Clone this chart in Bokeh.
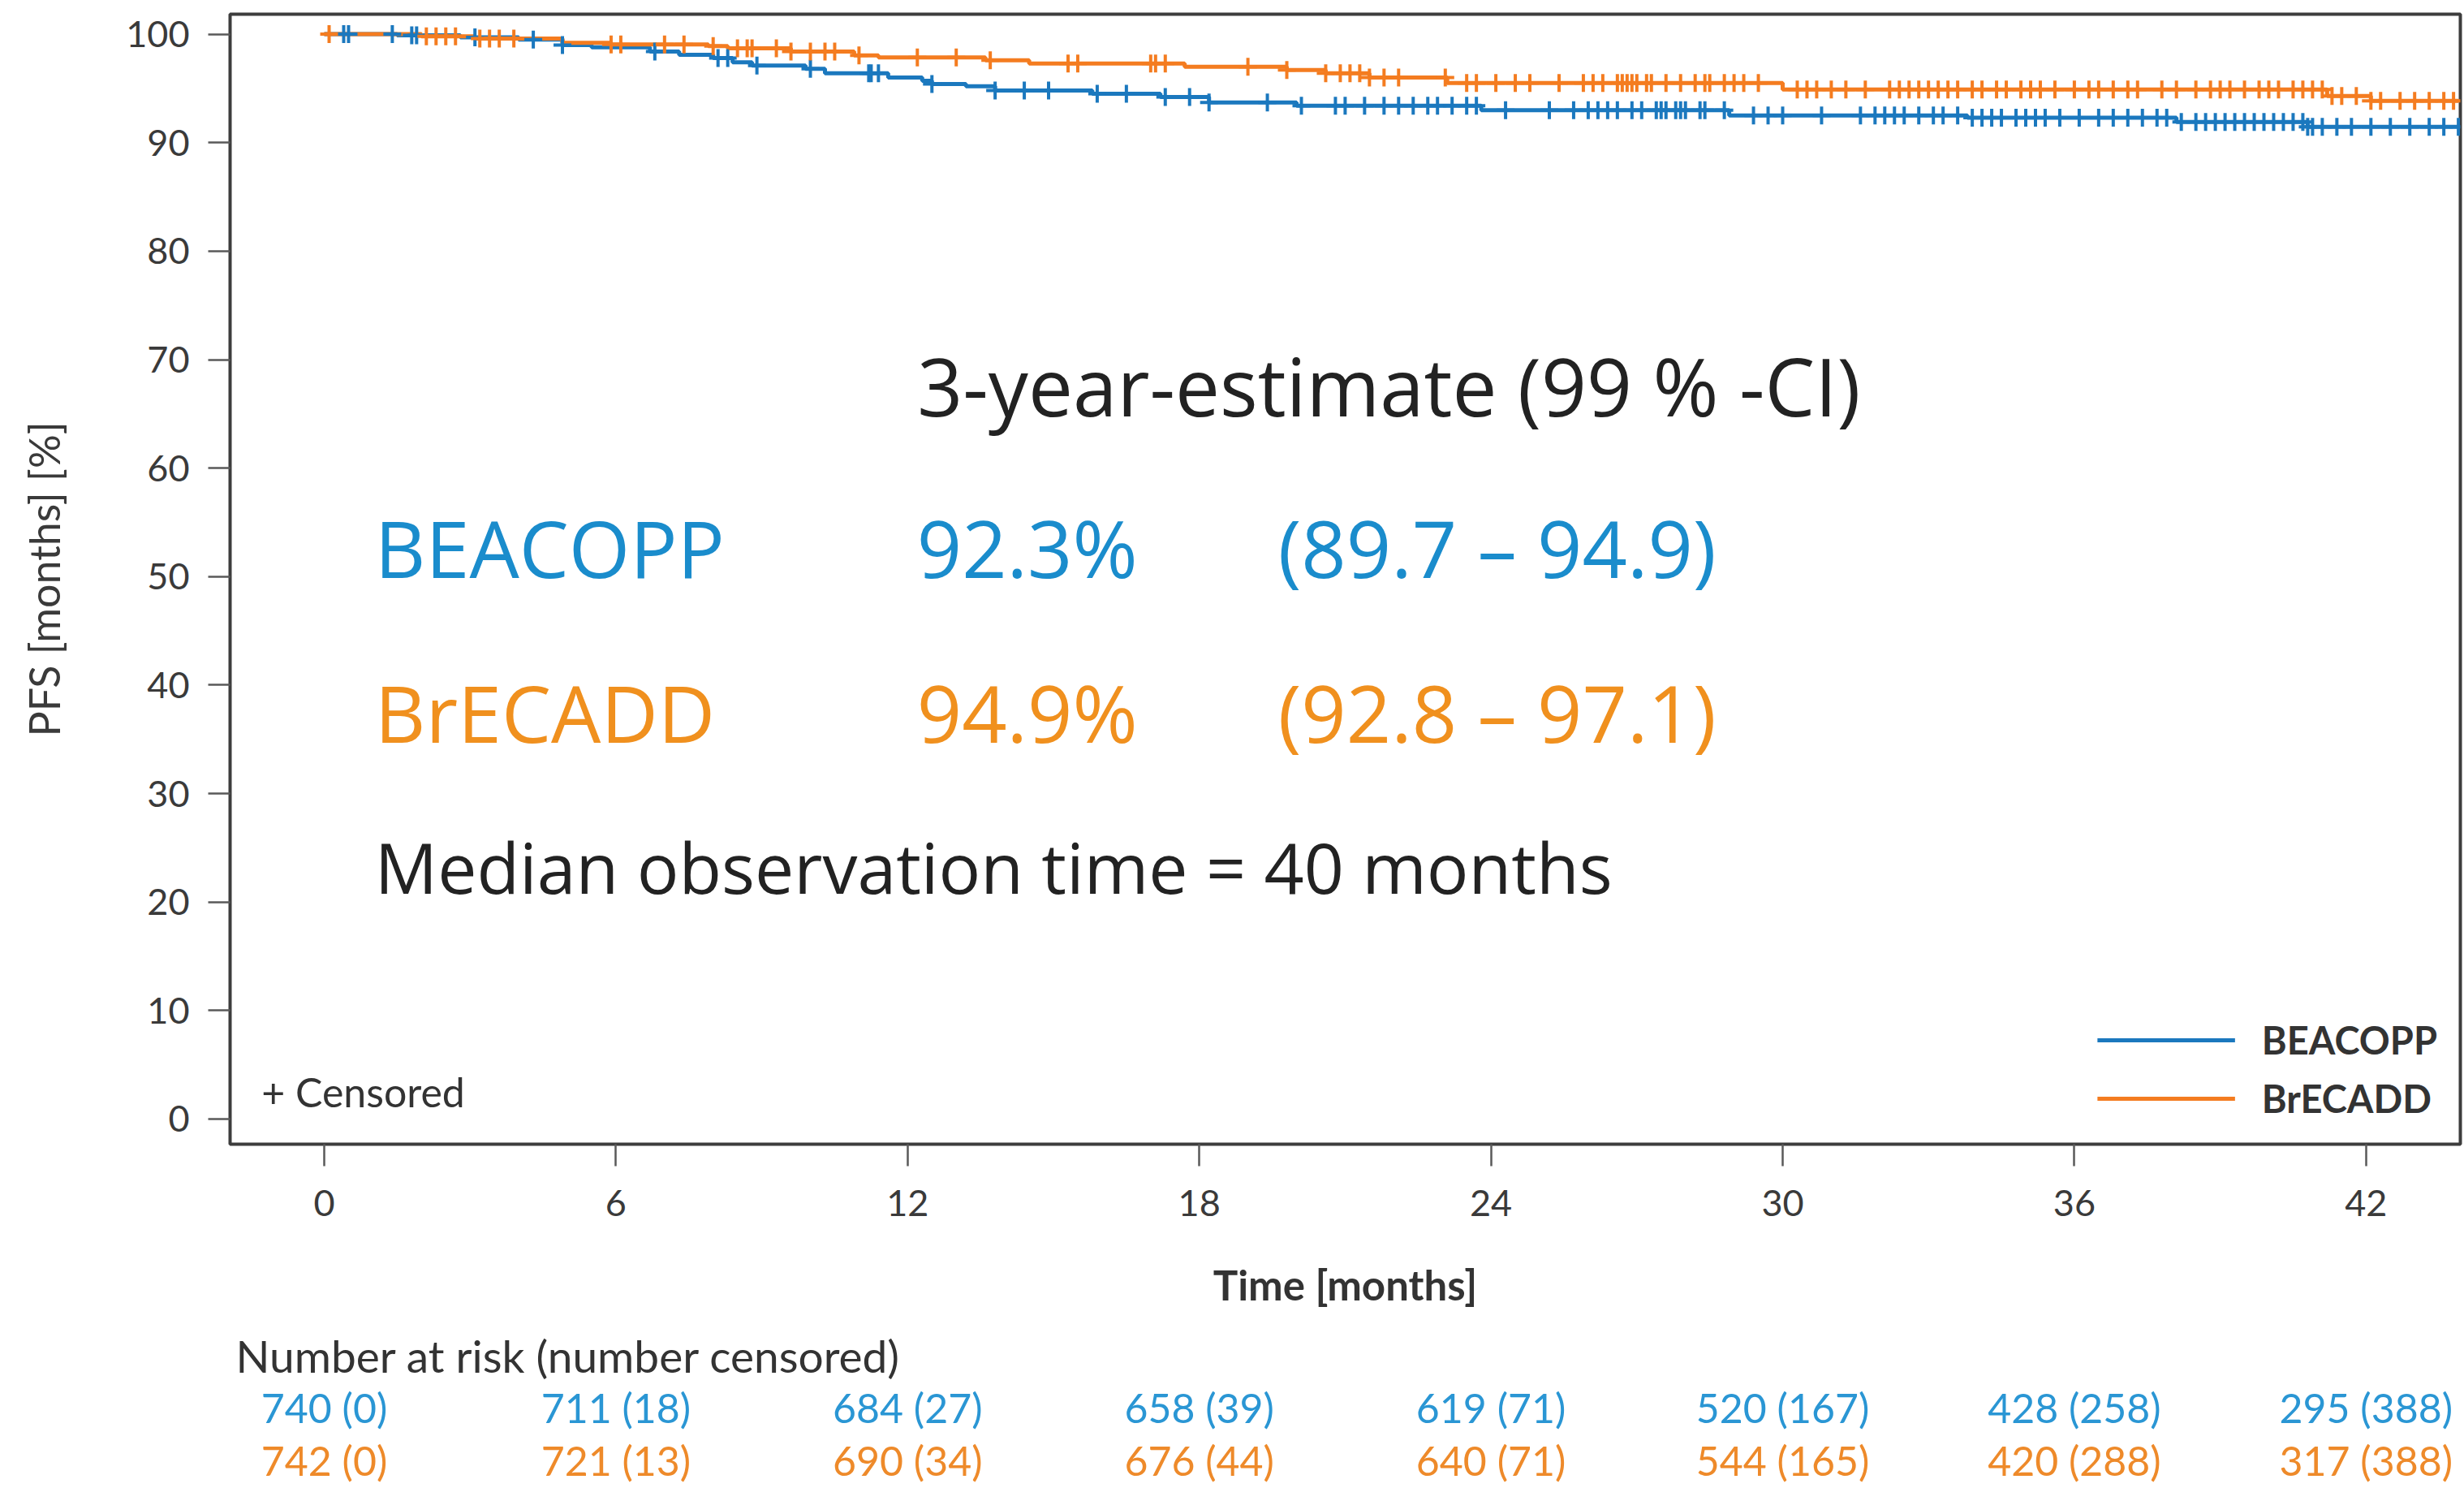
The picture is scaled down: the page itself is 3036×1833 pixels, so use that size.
import numpy as np
from bokeh.plotting import figure
from bokeh.layouts import column
from bokeh.models import Range1d, FixedTicker, Label, ColumnDataSource
from bokeh.core.properties import value
from bokeh.embed import file_html
from bokeh.resources import INLINE

# ---------------- data ----------------
arms = ["BEACOPP", "BrECADD"]

beacopp_t = [0, 1.5, 2.8, 4.0, 4.9, 5.5, 6.7, 7.3, 8.0, 8.4, 8.8, 9.9, 10.3, 11.6, 12.3, 12.5,
             13.2, 13.8, 15.8, 17.2, 18.2, 20.0, 23.8, 28.9, 33.8, 38.1, 40.8, 43.9]
beacopp_s = [100, 99.9, 99.7, 99.5, 99.0, 98.8, 98.4, 98.1, 97.8, 97.4, 97.1, 96.8, 96.4, 96.0, 95.7, 95.4,
             95.2, 94.8, 94.5, 94.2, 93.7, 93.4, 93.0, 92.5, 92.3, 91.9, 91.45, 91.45]

brecadd_t = [0, 2.0, 3.1, 4.9, 5.9, 7.9, 8.3, 9.6, 10.9, 11.4, 13.6, 14.5, 17.7, 19.8, 20.6,
             21.5, 23.1, 30.0, 41.2, 42.1, 43.9]
brecadd_s = [100, 99.8, 99.6, 99.2, 99.05, 98.9, 98.7, 98.4, 98.05, 97.85, 97.6, 97.3, 97.0, 96.7, 96.4,
             96.0, 95.5, 94.9, 94.3, 93.85, 93.85]

beacopp_censored = [0.4, 0.5, 1.4, 1.8, 1.9, 3.1, 4.3, 4.9, 6.8, 8.1, 8.3, 8.9, 10.0, 11.2, 11.25, 11.4,
                    12.5, 13.8, 14.4, 14.9, 15.9, 16.5, 17.3, 17.8, 18.2, 19.4, 20.1, 20.8, 21.0, 21.4,
                    21.8, 22.1, 22.4, 22.7, 22.9, 23.2, 23.5, 23.7, 24.3, 25.2, 25.7, 26.0, 26.2, 26.4,
                    26.6, 26.9, 27.1, 27.4, 27.5, 27.6, 27.8, 27.9, 28.0, 28.3, 28.4, 28.8, 29.4, 29.7,
                    30.0, 30.8, 31.6, 31.9, 32.1, 32.3, 32.5, 32.8, 33.1, 33.3, 33.6, 33.9, 34.1, 34.3,
                    34.5, 34.8, 35.0, 35.2, 35.4, 35.7, 36.1, 36.5, 36.8, 37.1, 37.4, 37.7, 37.9, 38.2,
                    38.5, 38.7, 38.9, 39.1, 39.3, 39.5, 39.7, 39.9, 40.1, 40.3, 40.5, 40.7, 40.8, 40.9,
                    41.1, 41.4, 41.7, 42.1, 42.5, 42.9, 43.3, 43.6, 43.9]
brecadd_censored = [0.1, 2.1, 2.3, 2.5, 2.7, 3.2, 3.4, 3.6, 3.9, 5.9, 6.1, 7.0, 7.4, 8.0, 8.5, 8.7, 8.8,
                    9.3, 9.6, 10.0, 10.3, 10.5, 11.0, 12.2, 13.0, 13.7, 15.3, 15.5, 17.0, 17.1, 17.3,
                    19.0, 19.8, 20.6, 20.9, 21.1, 21.3, 21.5, 21.8, 22.1, 23.06, 23.5, 23.7, 24.1, 24.5,
                    24.8, 25.4, 25.9, 26.1, 26.3, 26.6, 26.7, 26.8, 26.9, 27.0, 27.2, 27.3, 27.6, 27.9,
                    28.2, 28.4, 28.5, 28.8, 29.0, 29.2, 29.5, 30.3, 30.5, 30.7, 31.0, 31.3, 31.7, 32.2,
                    32.4, 32.6, 32.8, 33.0, 33.2, 33.4, 33.6, 33.9, 34.1, 34.4, 34.6, 34.9, 35.1, 35.3,
                    35.6, 36.0, 36.3, 36.5, 36.8, 37.1, 37.3, 37.8, 38.1, 38.5, 38.8, 39.0, 39.2, 39.5,
                    39.8, 40.0, 40.2, 40.5, 40.7, 40.9, 41.1, 41.3, 41.5, 41.8, 42.1, 42.3, 42.7, 43.0,
                    43.3, 43.6, 43.8]

header_text = "3-year-estimate (99 % -CI)"
estimates = ["92.3%", "94.9%"]
cis = ["(89.7 – 94.9)", "(92.8 – 97.1)"]
median_text = "Median observation time = 40 months"

risk_times = [0, 6, 12, 18, 24, 30, 36, 42]
at_risk_beacopp = [740, 711, 684, 658, 619, 520, 428, 295]
cens_beacopp = [0, 18, 27, 39, 71, 167, 258, 388]
at_risk_brecadd = [742, 721, 690, 676, 640, 544, 420, 317]
cens_brecadd = [0, 13, 34, 44, 71, 165, 288, 388]
y_ticks = list(range(0, 101, 10))

# ---------------- styles ----------------
BLUE = "#1b78be"
ORANGE = "#f47c20"
TXT_BLUE = "#1a8ccc"
TXT_ORANGE = "#f0901e"
TAB_BLUE = "#2a96d4"
TAB_ORANGE = "#ee8a2a"
DARK = "#3a3a3a"
SMALL_FONT = "Lato"
BIG_FONT = "Open Sans"


def step_at(times, surv, t):
    times = np.asarray(times)
    surv = np.asarray(surv)
    idx = np.searchsorted(times, np.asarray(t), side="right") - 1
    return surv[idx]


p = figure(width=3036, height=1630, title=None,
           x_range=Range1d(-1.937, 43.94), y_range=Range1d(-2.32, 101.84),
           output_backend="svg", toolbar_location=None,
           min_border_left=283, min_border_right=5, min_border_top=17, min_border_bottom=221)
p.xgrid.visible = False
p.ygrid.visible = False
p.outline_line_color = "#3d3d3d"
p.outline_line_width = 4
p.background_fill_color = "white"
p.border_fill_color = "white"

p.xaxis.ticker = FixedTicker(ticks=risk_times)
p.yaxis.ticker = FixedTicker(ticks=y_ticks)
for ax in (p.xaxis[0], p.yaxis[0]):
    ax.axis_line_color = None
    ax.major_tick_in = 0
    ax.major_tick_out = 27
    ax.minor_tick_line_color = None
    ax.major_tick_line_color = "#5a5a5a"
    ax.major_tick_line_width = 2.5
    ax.major_label_text_font = SMALL_FONT
    ax.major_label_text_font_size = "45px"
    ax.major_label_text_color = DARK
p.xaxis.major_label_standoff = 29
p.yaxis.major_label_standoff = 23
p.xaxis.axis_label = "Time [months]"
p.xaxis.axis_label_text_font = SMALL_FONT
p.xaxis.axis_label_text_font_size = "51px"
p.xaxis.axis_label_text_font_style = "bold"
p.xaxis.axis_label_text_color = "#333333"
p.xaxis.axis_label_standoff = 51
p.yaxis.axis_label = "PFS [months] [%]"
p.yaxis.axis_label_text_font = SMALL_FONT
p.yaxis.axis_label_text_font_size = "52px"
p.yaxis.axis_label_text_font_style = "normal"
p.yaxis.axis_label_text_color = DARK
p.yaxis.axis_label_standoff = 67

series = [
    (arms[0], beacopp_t, beacopp_s, beacopp_censored, BLUE),
    (arms[1], brecadd_t, brecadd_s, brecadd_censored, ORANGE),
]
for name, tt, ss, cc, col in series:
    p.step(x=tt, y=ss, mode="after", line_color=col, line_width=5, legend_label=name)
for name, tt, ss, cc, col in series:
    p.scatter(x=cc, y=step_at(tt, ss, cc), marker="cross", size=22,
              line_color=col, line_width=4)

leg = p.legend[0]
leg.location = "bottom_right"
leg.margin = 28
leg.padding = 0
leg.spacing = 16
leg.glyph_width = 170
leg.glyph_height = 40
leg.label_height = 40
leg.label_standoff = 33
leg.border_line_alpha = 0
leg.background_fill_alpha = 0
leg.label_text_font = SMALL_FONT
leg.label_text_font_size = "47px"
leg.label_text_font_style = "bold"
leg.label_text_color = "#333333"

p.add_layout(Label(x=-1.29, y=2.51, text="+ Censored", text_font=SMALL_FONT,
                   text_font_size="50px", text_color="#333333", text_baseline="alphabetic"))

# big summary texts
p.text(x=[12.2], y=[67.6], text=[header_text], text_font=value(BIG_FONT),
       text_font_size="98px", text_color="#222222", text_baseline="alphabetic")
col_x = [1.04, 12.19, 19.62]
row_y = [52.7, 37.5]
row_cols = [TXT_BLUE, TXT_ORANGE]
big_src = ColumnDataSource(dict(
    x=[col_x[0]] * 2 + [col_x[1]] * 2 + [col_x[2]] * 2,
    y=row_y * 3,
    text=arms + estimates + cis,
    color=row_cols * 3,
))
p.text(x="x", y="y", text="text", source=big_src, text_color="color",
       text_font=value(BIG_FONT), text_font_size="97px", text_baseline="alphabetic")
p.text(x=[1.04], y=[23.3], text=[median_text], text_font=value(BIG_FONT),
       text_font_size="86px", text_color="#222222", text_baseline="alphabetic")

# ---------------- number at risk table ----------------
p2 = figure(width=3036, height=203, title=None, x_range=p.x_range, y_range=Range1d(0, 203),
            output_backend="svg", toolbar_location=None,
            x_axis_location=None, y_axis_location=None,
            min_border_left=283, min_border_right=5, min_border_top=0, min_border_bottom=0)
p2.grid.visible = False
p2.outline_line_color = None
p2.background_fill_color = "white"
p2.border_fill_color = "white"

p2.text(x=[-1.82], y=[163.2], text=["Number at risk (number censored)"],
        text_font=value(SMALL_FONT), text_font_size="55px", text_color="#333333",
        text_baseline="alphabetic")
tab_src = ColumnDataSource(dict(
    x=risk_times * 2,
    y=[99.5] * len(risk_times) + [34.8] * len(risk_times),
    text=[f"{a} ({c})" for a, c in zip(at_risk_beacopp, cens_beacopp)]
         + [f"{a} ({c})" for a, c in zip(at_risk_brecadd, cens_brecadd)],
    color=[TAB_BLUE] * len(risk_times) + [TAB_ORANGE] * len(risk_times),
))
p2.text(x="x", y="y", text="text", source=tab_src, text_color="color",
        text_font=value(SMALL_FONT), text_font_size="50px", text_align="center",
        text_baseline="alphabetic")

layout = column(p, p2, spacing=0)
open("out.html", "w").write(file_html(layout, INLINE))
